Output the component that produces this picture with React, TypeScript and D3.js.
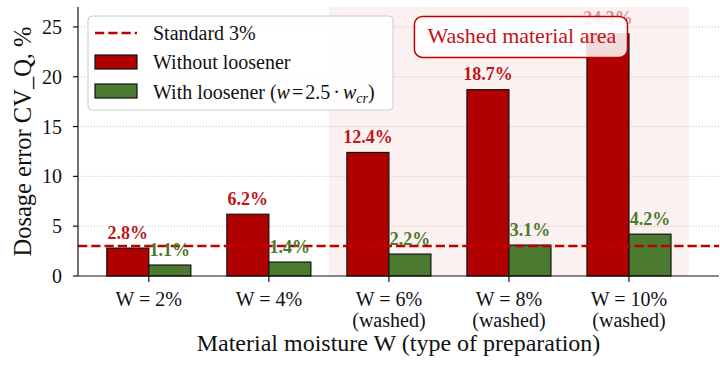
import React from "react";
import * as d3 from "d3";

// Dosage error by material moisture, with and without the loosener
const categories = ["W = 2%", "W = 4%", "W = 6%", "W = 8%", "W = 10%"];
const categoryNotes = ["", "", "(washed)", "(washed)", "(washed)"];
const withoutLoosener = [2.8, 6.2, 12.4, 18.7, 24.3];
const withLoosener = [1.1, 1.4, 2.2, 3.1, 4.2];
const yTicks = [0, 5, 10, 15, 20, 25];
const standardLevel = 3;
const washedSpan = [1.5, 4.5];
const washedLabel = "Washed material area";
const washedLabelPos = [3.1, 24.0];

const W = 720;
const H = 365;
const FONT = "'Liberation Serif', 'Times New Roman', serif";
const RED_BAR = "#b00000";
const GREEN_BAR = "#4b7a30";
const RED_LINE = "#c00000";
const RED_TEXT = "#c0141a";
const GREEN_TEXT = "#4a7a2a";
const BAR_W = 0.35;

export default function App() {
  const x = d3.scaleLinear().domain([-0.59, 4.75]).range([78, 719]);
  const y = d3.scaleLinear().domain([0, 27]).range([276, 7]);
  const [x0, x1] = x.range();
  const [yb, yt] = y.range();
  const fmt = (v: number) => `${v.toFixed(1)}%`;

  const boxX = x(washedLabelPos[0]);
  const boxY = y(washedLabelPos[1]);
  const boxW = 213;
  const boxH = 41;

  return (
    <svg
      width={W}
      height={H}
      viewBox={`0 0 ${W} ${H}`}
      style={{ position: "absolute", left: 0, top: 0, background: "#fff" }}
      fontFamily={FONT}
    >
      {/* washed region shading */}
      <rect
        x={x(washedSpan[0])}
        y={yt}
        width={x(washedSpan[1]) - x(washedSpan[0])}
        height={yb - yt}
        fill="#c00000"
        fillOpacity={0.055}
      />

      {/* dotted grid */}
      {yTicks.filter((t) => t > 0).map((t) => (
        <line
          key={`g${t}`}
          x1={x0}
          x2={x1}
          y1={y(t)}
          y2={y(t)}
          stroke="#b8b8b8"
          strokeWidth={1}
          strokeDasharray="1,2.2"
        />
      ))}

      {/* bars */}
      {withoutLoosener.map((v, i) => (
        <rect
          key={`r${i}`}
          x={x(i - BAR_W)}
          y={y(v)}
          width={x(i) - x(i - BAR_W)}
          height={yb - y(v)}
          fill={RED_BAR}
          stroke="#111"
          strokeWidth={1.2}
        />
      ))}
      {withLoosener.map((v, i) => (
        <rect
          key={`gr${i}`}
          x={x(i)}
          y={y(v)}
          width={x(i + BAR_W) - x(i)}
          height={yb - y(v)}
          fill={GREEN_BAR}
          stroke="#111"
          strokeWidth={1.2}
        />
      ))}

      {/* standard level */}
      <line
        x1={x0}
        x2={x1}
        y1={y(standardLevel)}
        y2={y(standardLevel)}
        stroke={RED_LINE}
        strokeWidth={2.5}
        strokeDasharray="9.25,4"
      />

      {/* value labels */}
      {withoutLoosener.map((v, i) => (
        <text
          key={`rl${i}`}
          x={x(i - BAR_W / 2)}
          y={y(v) - 9.5}
          textAnchor="middle"
          fontSize={18}
          fontWeight="bold"
          fill={RED_TEXT}
          opacity={i === withoutLoosener.length - 1 ? 0.45 : 1}
        >
          {fmt(v)}
        </text>
      ))}
      {withLoosener.map((v, i) => (
        <text
          key={`gl${i}`}
          x={x(i + BAR_W / 2)}
          y={y(v) - 9.5}
          textAnchor="middle"
          fontSize={18}
          fontWeight="bold"
          fill={GREEN_TEXT}
        >
          {fmt(v)}
        </text>
      ))}

      {/* washed region annotation */}
      <rect
        x={boxX - boxW / 2}
        y={boxY - boxH / 2}
        width={boxW}
        height={boxH}
        rx={8}
        fill="#fff"
        fillOpacity={0.86}
        stroke={RED_LINE}
        strokeWidth={1.5}
      />
      <text
        x={boxX + 1}
        y={boxY + 6.5}
        textAnchor="middle"
        fontSize={22}
        fill={RED_TEXT}
      >
        {washedLabel}
      </text>

      {/* axes */}
      <line x1={x0} x2={x0} y1={yt} y2={yb} stroke="#111" strokeWidth={1.2} />
      <line x1={x0} x2={x1} y1={yb} y2={yb} stroke="#111" strokeWidth={1.2} />
      {yTicks.map((t) => (
        <g key={`yt${t}`}>
          <line x1={x0 - 5} x2={x0} y1={y(t)} y2={y(t)} stroke="#111" strokeWidth={1.2} />
          <text x={x0 - 16} y={y(t) + 7} textAnchor="end" fontSize={20} fill="#111">
            {t}
          </text>
        </g>
      ))}
      {categories.map((c, i) => (
        <g key={`xt${i}`}>
          <line x1={x(i)} x2={x(i)} y1={yb} y2={yb + 6} stroke="#111" strokeWidth={1.2} />
          <text x={x(i)} y={306} textAnchor="middle" fontSize={20} fill="#111">
            {c}
          </text>
          {categoryNotes[i] && (
            <text x={x(i)} y={327} textAnchor="middle" fontSize={20} fill="#111">
              {categoryNotes[i]}
            </text>
          )}
        </g>
      ))}

      {/* axis titles */}
      <text
        x={(x0 + x1) / 2}
        y={351}
        textAnchor="middle"
        fontSize={24}
        fill="#111"
      >
        Material moisture W (type of preparation)
      </text>
      <text
        transform={`translate(31, ${(yt + yb) / 2}) rotate(-90)`}
        textAnchor="middle"
        fontSize={24.5}
        fill="#111"
      >
        Dosage error CV_Q, %
      </text>

      {/* legend */}
      <g>
        <rect
          x={88}
          y={16}
          width={305}
          height={94}
          rx={4}
          fill="#fff"
          fillOpacity={0.82}
          stroke="#cccccc"
          strokeWidth={1}
        />
        <line
          x1={95}
          x2={137}
          y1={33}
          y2={33}
          stroke={RED_LINE}
          strokeWidth={2.5}
          strokeDasharray="9.25,4"
        />
        <text x={153} y={40} fontSize={20} fill="#111">
          Standard 3%
        </text>
        <rect x={95} y={55} width={42} height={14} fill={RED_BAR} stroke="#111" strokeWidth={1.2} />
        <text x={153} y={69} fontSize={20} fill="#111">
          Without loosener
        </text>
        <rect x={95} y={84} width={42} height={14} fill={GREEN_BAR} stroke="#111" strokeWidth={1.2} />
        <text x={153} y={98.5} fontSize={20} fill="#111">
          With loosener (
          <tspan fontStyle="italic">w</tspan>
          <tspan dx={2}>=</tspan>
          <tspan dx={2}>2.5</tspan>
          <tspan dx={3}>·</tspan>
          <tspan dx={3} fontStyle="italic">w</tspan>
          <tspan fontStyle="italic" fontSize={14} dy={4}>cr</tspan>
          <tspan dy={-4}>)</tspan>
        </text>
      </g>
    </svg>
  );
}
